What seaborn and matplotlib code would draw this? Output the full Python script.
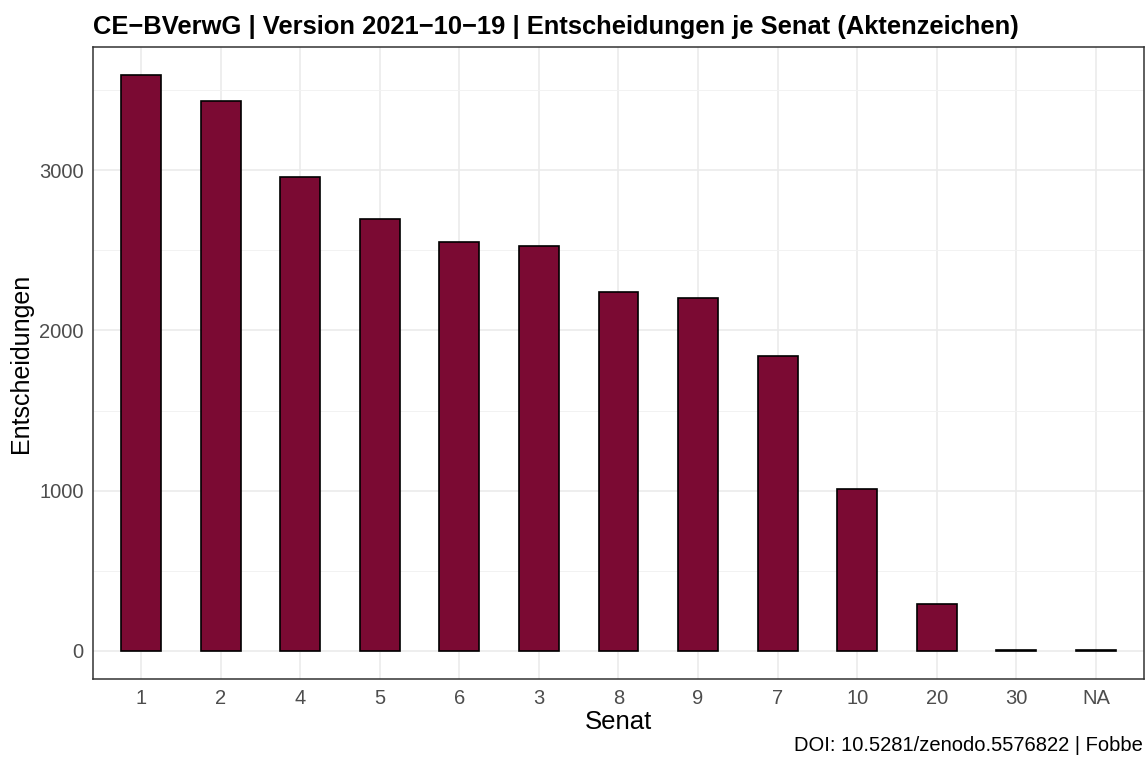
import pandas as pd
import seaborn as sns
import matplotlib.pyplot as plt
from matplotlib.ticker import MultipleLocator

# Entscheidungen je Senat, sortiert nach Anzahl
senate = ["1", "2", "4", "5", "6", "3", "8", "9", "7", "10", "20", "30", "NA"]
decisions = [3592, 3430, 2961, 2694, 2550, 2530, 2240, 2205, 1840, 1010, 294, 4, 3]

df = pd.DataFrame({"Senat": senate, "Entscheidungen": decisions})

sns.set_theme(style="whitegrid")
plt.rcParams["font.family"] = ["Liberation Sans", "DejaVu Sans"]

fig, ax = plt.subplots(figsize=(11.46, 7.69), dpi=100)
fig.subplots_adjust(left=0.0814, right=0.998, top=0.939, bottom=0.1165)

sns.barplot(data=df, x="Senat", y="Entscheidungen", order=senate,
            color="#7B0A33", saturation=1, width=0.5,
            edgecolor="black", linewidth=1.2, ax=ax)

ax.set_xlim(-0.6, len(senate) - 0.4)
ax.set_ylim(-178, 3770)
ax.yaxis.set_major_locator(MultipleLocator(1000))
ax.yaxis.set_minor_locator(MultipleLocator(500))

ax.set_axisbelow(True)
ax.grid(which="major", color="#EBEBEB", linewidth=1.2)
ax.grid(which="minor", axis="y", color="#F2F2F2", linewidth=0.7)
for s in ax.spines.values():
    s.set_visible(True)
    s.set_color("#333333")
    s.set_linewidth(1.1)

ax.tick_params(axis="both", which="major", length=4, width=1, color="#333333",
               labelsize=14.5, labelcolor="#4D4D4D", pad=3)
ax.tick_params(axis="both", which="minor", length=0)

ax.set_xlabel("Senat", fontsize=18.5, labelpad=1, color="black")
ax.set_ylabel("Entscheidungen", fontsize=18, labelpad=4, color="black")
ax.set_title("CE\u2212BVerwG | Version 2021\u221210\u221219 | Entscheidungen je Senat (Aktenzeichen)",
             loc="left", fontsize=18.4, fontweight="bold", pad=9, color="black")

fig.text(0.9975, 0.018, "DOI: 10.5281/zenodo.5576822 | Fobbe",
         ha="right", va="bottom", fontsize=14.5, color="black")

fig.savefig("out.png", dpi=100)
